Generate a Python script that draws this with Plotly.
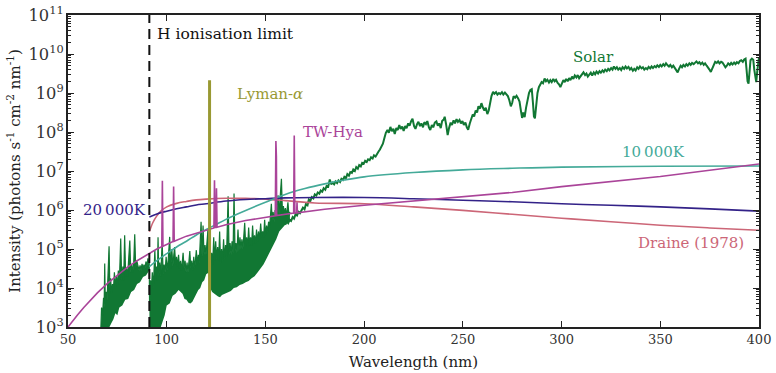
import plotly.graph_objects as go

# ---------------- data ----------------
# Intensities are stored as log10(photons s^-1 cm^-2 nm^-1)

x_ticks = [50, 100, 150, 200, 250, 300, 350, 400]
x_tick_labels = ["50", "100", "150", "200", "250", "300", "350", "400"]

# Solar: dense EUV/FUV part drawn as a band between a lower and an upper envelope
solar_low_wl = [66.6, 70.0, 72.0, 73.0, 74.0, 75.0, 76.0, 77.5, 79.0, 80.5,
                82.0, 83.5, 85.0, 86.5, 88.0, 89.5, 91.15, 91.3, 96.0, 97.0,
                98.0, 99.0, 100.0, 101.5, 103.0, 104.5, 106.0, 107.0, 108.0, 109.0,
                110.0, 111.0, 112.0, 113.0, 114.0, 115.0, 116.0, 117.0, 118.0, 119.0,
                120.0, 121.3, 122.0, 123.0, 124.0, 125.0, 126.0, 127.0, 128.0, 129.5,
                131.0, 132.5, 134.0, 135.5, 137.0, 138.5, 140.0, 141.5, 143.0, 144.5,
                146.0, 147.5, 149.0, 150.0, 151.0, 152.5, 154.0, 155.5, 157.0, 158.5,
                160.0, 162.4]
solar_low_log = [2.8, 2.9, 3.1, 3.2, 3.35, 3.3, 3.5, 3.55, 3.7, 3.72,
                 3.9, 3.95, 4.1, 4.15, 4.28, 4.32, 4.45, 2.8, 2.85, 3.0,
                 3.2, 3.3, 3.55, 3.6, 3.8, 3.85, 3.95, 3.9, 3.85, 3.72,
                 3.7, 3.62, 3.6, 3.65, 3.75, 3.85, 3.95, 4.0, 4.15, 4.2,
                 4.35, 4.4, 4.0, 3.9, 3.85, 3.82, 3.78, 3.76, 3.82, 3.85,
                 3.9, 3.92, 4.0, 4.02, 4.08, 4.1, 4.15, 4.18, 4.25, 4.3,
                 4.4, 4.5, 4.6, 4.7, 4.8, 4.95, 5.1, 5.25, 5.45, 5.55,
                 5.62, 5.75]

solar_high_wl = [66.6, 67.0, 67.5, 68.0, 68.3, 68.6, 68.9, 69.4, 69.8, 70.3,
                 70.8, 71.2, 71.6, 72.0, 72.5, 73.0, 73.5, 74.0, 74.5, 75.0,
                 75.5, 76.0, 76.7, 77.2, 77.8, 78.2, 78.7, 79.2, 79.7, 80.2,
                 80.7, 81.3, 81.8, 82.3, 82.8, 83.3, 83.8, 84.3, 84.8, 85.5,
                 86.0, 86.5, 87.0, 87.5, 88.0, 88.5, 89.0, 89.5, 90.0, 90.5,
                 91.0, 91.15, 91.3, 91.8, 92.2, 92.7, 93.2, 93.7, 94.0, 94.4,
                 94.9, 95.3, 95.6, 96.0, 96.5, 97.0, 97.7, 98.2, 98.7, 99.2,
                 99.7, 100.2, 100.8, 101.5, 102.0, 102.6, 103.1, 103.6, 104.0, 104.5,
                 105.0, 105.5, 106.0, 106.5, 107.0, 107.5, 108.3, 108.8, 109.3, 109.8,
                 110.3, 110.8, 111.7, 112.2, 112.7, 113.2, 113.7, 114.2, 115.0, 115.5,
                 116.0, 116.5, 117.4, 117.9, 118.4, 118.9, 119.4, 119.9, 120.4, 120.9,
                 121.3, 121.8, 122.3, 122.8, 123.3, 123.8, 124.3, 124.8, 125.3, 125.8,
                 126.3, 126.8, 127.3, 127.8, 128.3, 128.8, 129.3, 129.8, 130.3, 131.1,
                 131.6, 132.1, 132.6, 133.1, 133.6, 134.1, 134.6, 135.1, 135.6, 136.1,
                 136.6, 137.1, 137.6, 138.1, 138.6, 139.5, 140.0, 140.5, 141.0, 141.5,
                 142.0, 142.5, 143.0, 143.5, 144.0, 144.5, 145.0, 145.5, 146.0, 146.5,
                 147.0, 147.6, 148.1, 148.6, 149.1, 149.6, 150.1, 150.6, 151.1, 151.6,
                 152.1, 152.6, 153.0, 153.4, 153.9, 154.4, 154.9, 155.5, 156.0, 156.4,
                 156.9, 157.4, 158.1, 158.6, 159.1, 159.6, 160.1, 160.6, 161.4, 161.9,
                 162.4]
solar_high_log = [2.9, 3.5, 3.3, 3.75, 3.5, 4.63, 3.6, 3.9, 3.7, 4.3,
                  5.07, 4.0, 4.25, 3.85, 4.1, 3.95, 4.4, 4.0, 4.3, 4.05,
                  4.45, 4.1, 5.27, 4.2, 4.55, 4.2, 5.35, 4.3, 4.5, 4.3,
                  4.7, 5.22, 4.4, 4.6, 4.4, 4.65, 5.38, 4.5, 4.7, 4.54,
                  4.45, 4.58, 4.45, 4.62, 4.5, 4.6, 4.5, 4.68, 4.55, 4.76,
                  4.6, 4.65, 3.6, 4.2, 3.9, 4.4, 4.0, 4.6, 4.97, 4.3,
                  4.55, 4.2, 5.3, 4.3, 4.65, 4.3, 5.2, 4.35, 4.6, 4.4,
                  4.8, 4.45, 4.75, 5.31, 4.5, 5.0, 4.55, 4.85, 5.05, 4.6,
                  4.8, 4.55, 4.85, 4.5, 4.7, 4.45, 4.9, 4.5, 4.7, 4.4,
                  4.65, 4.4, 4.95, 4.5, 4.7, 4.45, 4.8, 4.5, 4.97, 4.6,
                  4.85, 4.65, 5.7, 4.8, 5.6, 4.85, 5.1, 4.85, 5.2, 5.5,
                  5.0, 5.0, 4.7, 4.9, 4.6, 5.3, 4.7, 5.2, 4.75, 5.05,
                  4.7, 5.45, 4.65, 5.0, 4.7, 5.25, 4.75, 5.1, 4.8, 6.35,
                  4.85, 5.15, 4.85, 5.2, 4.9, 6.42, 4.95, 5.15, 4.9, 5.5,
                  4.95, 5.3, 5.0, 5.25, 5.0, 5.67, 5.05, 5.3, 5.05, 5.55,
                  5.1, 5.3, 5.1, 5.6, 5.15, 5.35, 5.15, 5.5, 5.2, 5.45,
                  5.25, 5.65, 5.3, 5.45, 5.3, 5.75, 5.35, 5.6, 5.45, 5.7,
                  5.55, 5.9, 6.16, 5.75, 5.95, 5.7, 6.0, 5.82, 6.1, 6.38,
                  5.9, 6.3, 6.8, 5.95, 6.1, 5.9, 6.05, 5.85, 6.2, 5.85,
                  5.95]

# Solar: near-UV part drawn as a single line
solar_wl = [160.0, 160.8, 161.5, 162.3, 163.0, 163.8, 164.5, 165.3, 166.0, 166.8,
            167.5, 168.3, 169.0, 169.8, 170.5, 171.3, 172.0, 172.8, 173.5, 174.3,
            175.0, 175.8, 176.5, 177.3, 178.0, 178.8, 179.5, 180.3, 181.0, 181.8,
            182.6, 183.3, 184.0, 184.8, 185.5, 186.3, 187.0, 187.8, 188.5, 189.3,
            190.0, 190.8, 191.5, 192.3, 193.0, 193.8, 194.5, 195.3, 196.0, 196.8,
            197.5, 198.3, 199.0, 199.8, 200.5, 201.3, 202.0, 202.8, 203.5, 204.3,
            205.0, 205.8, 206.5, 207.3, 208.0, 208.8, 209.5, 210.3, 211.0, 211.8,
            212.5, 213.3, 214.0, 214.8, 215.5, 216.3, 217.0, 217.8, 218.5, 219.3,
            220.0, 220.8, 221.5, 222.3, 223.0, 223.8, 224.5, 225.3, 226.0, 226.8,
            227.5, 228.3, 229.0, 229.8, 230.5, 231.3, 232.0, 232.8, 233.5, 234.3,
            235.0, 235.8, 236.6, 237.3, 238.0, 238.8, 239.5, 240.3, 240.8, 241.5,
            242.3, 243.0, 243.8, 244.5, 245.3, 246.0, 246.8, 247.5, 248.3, 249.0,
            249.8, 250.5, 251.3, 252.0, 252.7, 253.5, 254.2, 255.0, 255.7, 256.5,
            257.2, 257.9, 258.7, 259.4, 260.2, 260.9, 261.6, 262.4, 263.1, 263.8,
            264.5, 265.3, 266.0, 266.8, 267.5, 268.3, 269.0, 269.8, 270.5, 271.3,
            272.0, 272.8, 273.5, 274.3, 275.0, 275.7, 276.5, 277.2, 278.0, 278.7,
            279.4, 280.0, 280.6, 281.3, 282.0, 282.7, 283.5, 284.2, 284.9, 285.5,
            286.0, 286.5, 287.1, 287.8, 288.5, 289.2, 289.9, 290.6, 291.4, 292.1,
            292.8, 293.6, 294.3, 295.0, 295.8, 296.5, 297.2, 298.0, 298.7, 299.4,
            300.1, 300.9, 301.6, 302.3, 303.1, 303.8, 304.5, 305.3, 306.0, 306.7,
            307.5, 308.2, 308.9, 309.7, 310.4, 311.1, 311.9, 312.6, 313.3, 314.1,
            314.8, 315.5, 316.3, 317.0, 317.7, 318.5, 319.2, 319.9, 320.7, 321.4,
            322.1, 322.9, 323.6, 324.3, 325.1, 325.8, 326.5, 327.3, 328.0, 328.7,
            329.5, 330.2, 330.9, 331.7, 332.4, 333.1, 333.9, 334.6, 335.3, 336.1,
            336.8, 337.5, 338.3, 339.0, 339.7, 340.5, 341.2, 341.9, 342.7, 343.4,
            344.1, 344.9, 345.6, 346.3, 347.1, 347.8, 348.5, 349.3, 350.0, 350.7,
            351.5, 352.2, 352.9, 353.7, 354.4, 355.1, 355.9, 356.6, 357.3, 358.1,
            358.8, 359.5, 360.3, 361.0, 361.7, 362.5, 363.2, 363.9, 364.7, 365.4,
            366.1, 366.9, 367.6, 368.3, 369.1, 369.8, 370.5, 371.3, 372.0, 372.7,
            373.5, 374.2, 374.9, 375.6, 376.4, 377.1, 377.8, 378.6, 379.3, 380.0,
            380.8, 381.5, 382.2, 383.0, 383.7, 384.4, 385.2, 385.9, 386.6, 387.4,
            388.1, 388.8, 389.6, 390.3, 391.0, 391.8, 392.5, 393.2, 393.7, 394.2,
            394.7, 395.2, 395.7, 396.4, 397.1, 397.6, 398.1, 398.6, 399.1, 399.6,
            400.0]
solar_log = [5.62, 5.70, 5.66, 5.75, 5.72, 5.82, 5.78, 5.90, 5.86, 5.95,
             5.92, 6.02, 6.06, 6.02, 6.15, 6.12, 6.27, 6.24, 6.33, 6.30,
             6.40, 6.37, 6.45, 6.42, 6.50, 6.47, 6.56, 6.52, 6.62, 6.60,
             6.78, 6.66, 6.70, 6.66, 6.73, 6.69, 6.76, 6.72, 6.80, 6.77,
             6.85, 6.82, 6.92, 6.88, 6.97, 6.95, 7.04, 7.00, 7.10, 7.06,
             7.15, 7.12, 7.21, 7.19, 7.26, 7.23, 7.30, 7.28, 7.35, 7.32,
             7.40, 7.37, 7.45, 7.50, 7.55, 7.62, 7.70, 7.85, 7.98, 8.05,
             7.98, 8.13, 8.02, 8.08, 7.95, 8.10, 8.05, 8.18, 8.08, 8.14,
             8.03, 8.15, 8.10, 8.22, 8.16, 8.28, 8.34, 8.15, 8.08, 8.20,
             8.26, 8.15, 8.22, 8.12, 8.25, 8.20, 8.28, 8.12, 8.05, 8.18,
             8.12, 8.24, 8.27, 8.16, 8.22, 8.10, 8.28, 8.32, 8.39, 8.20,
             7.92, 8.10, 8.24, 8.18, 8.30, 8.22, 8.33, 8.26, 8.31, 8.22,
             8.28, 8.18, 8.24, 8.12, 8.06, 8.22, 8.34, 8.45, 8.40, 8.55,
             8.50, 8.66, 8.60, 8.74, 8.62, 8.55, 8.62, 8.46, 8.55, 8.80,
             8.92, 9.03, 8.98, 9.02, 8.96, 9.00, 8.97, 9.02, 8.96, 9.01,
             8.97, 8.92, 8.82, 8.66, 8.75, 8.92, 8.88, 8.93, 8.86, 8.78,
             8.55, 8.36, 8.50, 8.38, 8.62, 8.85, 9.00, 9.08, 9.10, 8.75,
             8.40, 8.35, 8.70, 9.00, 9.15, 9.22, 9.28, 9.25, 9.37, 9.30,
             9.34, 9.27, 9.33, 9.28, 9.36, 9.30, 9.34, 9.26, 9.22, 9.15,
             9.25, 9.33, 9.28, 9.36, 9.30, 9.38, 9.33, 9.42, 9.36, 9.45,
             9.40, 9.46, 9.38, 9.44, 9.48, 9.53, 9.46, 9.50, 9.42, 9.48,
             9.52, 9.45, 9.53, 9.48, 9.55, 9.50, 9.56, 9.52, 9.58, 9.54,
             9.60, 9.56, 9.62, 9.58, 9.64, 9.60, 9.68, 9.62, 9.66, 9.60,
             9.64, 9.59, 9.66, 9.62, 9.68, 9.63, 9.67, 9.60, 9.64, 9.57,
             9.62, 9.58, 9.66, 9.62, 9.68, 9.63, 9.66, 9.60, 9.64, 9.61,
             9.67, 9.63, 9.68, 9.64, 9.69, 9.66, 9.71, 9.67, 9.72, 9.68,
             9.74, 9.70, 9.76, 9.71, 9.68, 9.72, 9.66, 9.70, 9.64, 9.58,
             9.53, 9.62, 9.70, 9.66, 9.72, 9.68, 9.74, 9.70, 9.76, 9.72,
             9.77, 9.74, 9.79, 9.81, 9.76, 9.79, 9.74, 9.78, 9.72, 9.76,
             9.70, 9.66, 9.60, 9.54, 9.65, 9.75, 9.80, 9.77, 9.81, 9.76,
             9.80, 9.78, 9.72, 9.66, 9.70, 9.76, 9.72, 9.77, 9.73, 9.78,
             9.74, 9.79, 9.76, 9.82, 9.84, 9.80, 9.86, 9.88, 9.60, 9.30,
             9.24, 9.55, 9.84, 9.88, 9.85, 9.60, 9.35, 9.28, 9.55, 9.88,
             9.92]

# TW-Hya (continuum with narrow emission lines)
twhya_wl = [50.0, 52.0, 55.0, 58.0, 61.0, 65.0, 70.0, 75.0, 80.0, 85.0,
            90.0, 95.0, 97.5, 97.8, 98.1, 100.0, 103.2, 103.5, 103.8, 110.0,
            120.0, 123.9, 124.2, 124.5, 124.9, 125.2, 125.5, 130.0, 140.0, 150.0,
            155.0, 155.3, 155.55, 155.7, 160.0, 164.3, 164.6, 164.9, 165.8, 166.0,
            166.2, 170.0, 180.0, 200.0, 225.0, 250.0, 275.0, 300.0, 325.0, 350.0,
            375.0, 400.0]
twhya_log = [3.0, 3.14, 3.32, 3.5, 3.67, 3.88, 4.12, 4.33, 4.53, 4.7,
             4.86, 5.0, 5.06, 6.75, 5.07, 5.12, 5.19, 6.6, 5.2, 5.33,
             5.49, 5.54, 6.76, 5.55, 5.55, 6.56, 5.56, 5.62, 5.73, 5.82,
             5.85, 7.77, 7.36, 5.86, 5.89, 5.92, 7.91, 5.92, 5.93, 6.2,
             5.93, 5.96, 6.02, 6.12, 6.23, 6.33, 6.45, 6.6, 6.73, 6.86,
             7.02, 7.18]

# Lyman-alpha line
lyman_wl = [121.7, 121.7]
lyman_log = [2.5, 9.33]

# 20 000 K blackbody
bb20_wl = [91.2, 95, 100, 105, 110, 115, 120, 130, 140, 150,
           160, 175, 200, 225, 250, 275, 300, 325, 350, 375, 400]
bb20_log = [5.82, 5.9, 5.97, 6.03, 6.08, 6.13, 6.16, 6.23, 6.27, 6.29,
            6.31, 6.32, 6.32, 6.29, 6.25, 6.21, 6.16, 6.12, 6.08, 6.03, 5.97]

# 10 000 K blackbody
bb10_wl = [91.2, 95, 100, 105, 110, 115, 120, 125, 130, 135, 140, 150,
           160, 170, 180, 190, 200, 225, 250, 275, 300, 350, 400]
bb10_log = [4.55, 4.7, 4.88, 5.05, 5.2, 5.36, 5.5, 5.63, 5.76, 5.88, 5.99, 6.2,
            6.4, 6.55, 6.67, 6.77, 6.85, 6.96, 7.03, 7.07, 7.1, 7.12, 7.13]

# Draine (1978) interstellar field
draine_wl = [91.2, 93, 95, 97, 100, 105, 110, 115, 120, 130, 140, 150,
             160, 175, 200, 225, 250, 275, 300, 325, 350, 375, 400]
draine_log = [5.44, 5.68, 5.85, 5.97, 6.08, 6.17, 6.22, 6.26, 6.28, 6.3, 6.3, 6.28,
              6.24, 6.18, 6.16, 6.08, 5.99, 5.89, 5.79, 5.7, 5.61, 5.54, 5.48]

h_limit_wl = 91.2

# ---------------- colours ----------------
C_SOLAR = "#117733"
C_TW = "#AA4499"
C_LYA = "#999933"
C_BB20 = "#332288"
C_BB10 = "#44AA99"
C_DRAINE = "#CC6677"


def lin(v):
    return [10 ** a for a in v]


fig = go.Figure()

fig.add_trace(go.Scatter(x=solar_low_wl, y=lin(solar_low_log), mode="lines",
                         line=dict(width=0, color=C_SOLAR), hoverinfo="skip"))
fig.add_trace(go.Scatter(x=solar_high_wl, y=lin(solar_high_log), mode="lines",
                         fill="tonexty", fillcolor=C_SOLAR,
                         line=dict(width=1.2, color=C_SOLAR)))
fig.add_trace(go.Scatter(x=solar_wl, y=lin(solar_log), mode="lines",
                         line=dict(width=2, color=C_SOLAR)))

fig.add_trace(go.Scatter(x=draine_wl, y=lin(draine_log), mode="lines",
                         line=dict(width=1.6, color=C_DRAINE, shape="spline")))
fig.add_trace(go.Scatter(x=bb20_wl, y=lin(bb20_log), mode="lines",
                         line=dict(width=1.6, color=C_BB20, shape="spline")))
fig.add_trace(go.Scatter(x=bb10_wl, y=lin(bb10_log), mode="lines",
                         line=dict(width=1.6, color=C_BB10, shape="spline")))
fig.add_trace(go.Scatter(x=twhya_wl, y=lin(twhya_log), mode="lines",
                         line=dict(width=1.6, color=C_TW)))
fig.add_trace(go.Scatter(x=lyman_wl, y=lin(lyman_log), mode="lines",
                         line=dict(width=3, color=C_LYA)))

fig.add_shape(type="line", x0=h_limit_wl, x1=h_limit_wl, y0=0, y1=1,
              xref="x", yref="paper",
              line=dict(color="#111111", width=2, dash="10px,6px"))

LBL = 15
labels = [
    ("H ionisation limit", 94.0, 10.52, "#111111", 15.5),
    ("Lyman-<i>α</i>", 134.8, 8.98, C_LYA, LBL),
    ("TW-Hya", 168.2, 8.0, C_TW, LBL),
    ("Solar", 304.6, 9.92, C_SOLAR, LBL),
    ("10\u2009000K", 329.4, 7.49, C_BB10, LBL),
    ("20\u2009000K", 56.8, 5.99, C_BB20, LBL),
    ("Draine (1978)", 337.8, 5.16, C_DRAINE, LBL),
]
for text, xl, yl, col, fs in labels:
    fig.add_annotation(x=xl, y=yl, text=text, showarrow=False, xanchor="left",
                       yanchor="middle", font=dict(size=fs, color=col))

axis_common = dict(showline=True, linewidth=1.5, linecolor="#222222",
                   mirror="ticks", ticks="inside", tickcolor="#222222",
                   tickwidth=1, showgrid=False, zeroline=False,
                   tickfont=dict(size=13, color="#333333"))

fig.update_xaxes(range=[50, 400], tickvals=x_ticks, ticktext=x_tick_labels,
                 ticklen=6,
                 title=dict(text="Wavelength (nm)", font=dict(size=15, color="#222222"),
                            standoff=10),
                 **axis_common)
fig.update_yaxes(type="log", range=[3, 11], dtick=1, exponentformat="power",
                 ticklen=6,
                 minor=dict(ticks="inside", ticklen=3, dtick="D1",
                            tickcolor="#222222", showgrid=False),
                 title=dict(text="Intensity (photons s<sup>-1</sup> cm<sup>-2</sup> nm<sup>-1</sup>)",
                            font=dict(size=15, color="#222222"), standoff=4),
                 **axis_common)

fig.update_layout(width=776, height=373,
                  margin=dict(l=68, r=17, t=15, b=46, autoexpand=False),
                  paper_bgcolor="white", plot_bgcolor="white",
                  showlegend=False,
                  font=dict(family="DejaVu Serif", size=12, color="#222222"))

fig.write_html("out.html")
